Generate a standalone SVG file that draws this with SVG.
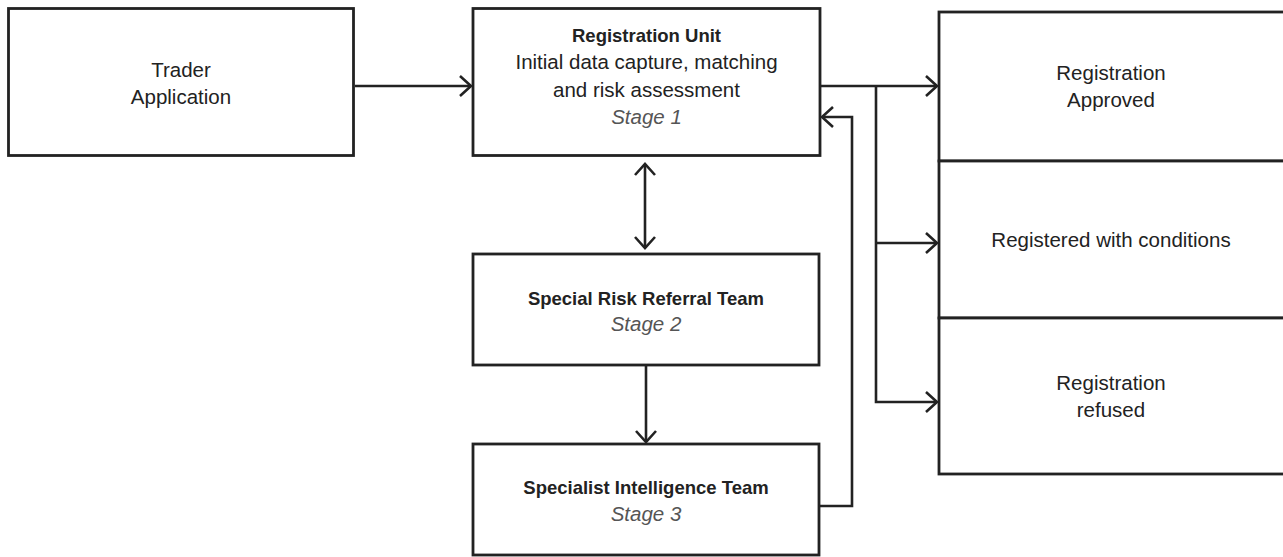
<svg xmlns="http://www.w3.org/2000/svg" width="1283" height="557" viewBox="0 0 1283 557">
<style>
.box{fill:#fff;stroke:#222;stroke-width:2.8}
.t{font-family:"Liberation Sans",Arial,sans-serif;font-size:20.5px;fill:#222;text-anchor:middle}
.b{font-weight:bold;font-size:18.5px}
.s{font-style:italic;fill:#555}
.c{fill:none;stroke:#222;stroke-width:2.6}
</style>
<defs>
<marker id="ah" markerUnits="userSpaceOnUse" viewBox="-14 -12 16 24" markerWidth="16" markerHeight="24" refX="0" refY="0" orient="auto-start-reverse">
<path d="M-11,-10 L0,0 L-11,10" fill="none" stroke="#222" stroke-width="2.6"/>
</marker>
</defs>
<rect width="1283" height="557" fill="#fff"/>
<g id="trader">
<rect class="box" x="8.5" y="8.5" width="345" height="147"/>
<text class="t" x="181" y="77">Trader</text>
<text class="t" x="181" y="104">Application</text>
</g>
<g id="registration-unit">
<rect class="box" x="473" y="8.5" width="347" height="147"/>
<text class="t b" x="646.5" y="42">Registration Unit</text>
<text class="t" x="646.5" y="69">Initial data capture, matching</text>
<text class="t" x="646.5" y="97">and risk assessment</text>
<text class="t s" x="646.5" y="124">Stage 1</text>
</g>
<g id="special-risk">
<rect class="box" x="473" y="254" width="346" height="111"/>
<text class="t b" x="646" y="305">Special Risk Referral Team</text>
<text class="t s" x="646" y="331">Stage 2</text>
</g>
<g id="specialist-intel">
<rect class="box" x="473" y="444" width="346" height="111"/>
<text class="t b" x="646" y="494">Specialist Intelligence Team</text>
<text class="t s" x="646" y="521">Stage 3</text>
</g>
<g id="approved">
<rect class="box" x="939" y="12" width="360" height="149"/>
<text class="t" x="1111" y="80">Registration</text>
<text class="t" x="1111" y="107">Approved</text>
</g>
<g id="conditions">
<rect class="box" x="939" y="161" width="360" height="157"/>
<text class="t" x="1111" y="247">Registered with conditions</text>
</g>
<g id="refused">
<rect class="box" x="939" y="318" width="360" height="156"/>
<text class="t" x="1111" y="390">Registration</text>
<text class="t" x="1111" y="417">refused</text>
</g>
<g id="connectors">
<path class="c" d="M355,86 H471" marker-end="url(#ah)"/>
<path class="c" d="M821,86 H937" marker-end="url(#ah)"/>
<path class="c" d="M876,86 V402 H937" marker-end="url(#ah)"/>
<path class="c" d="M876,243 H937" marker-end="url(#ah)"/>
<path class="c" d="M820,506 H852 V117 H822" marker-end="url(#ah)"/>
<path class="c" d="M645,164 V248" marker-start="url(#ah)" marker-end="url(#ah)"/>
<path class="c" d="M646,366 V442" marker-end="url(#ah)"/>
</g>
</svg>
